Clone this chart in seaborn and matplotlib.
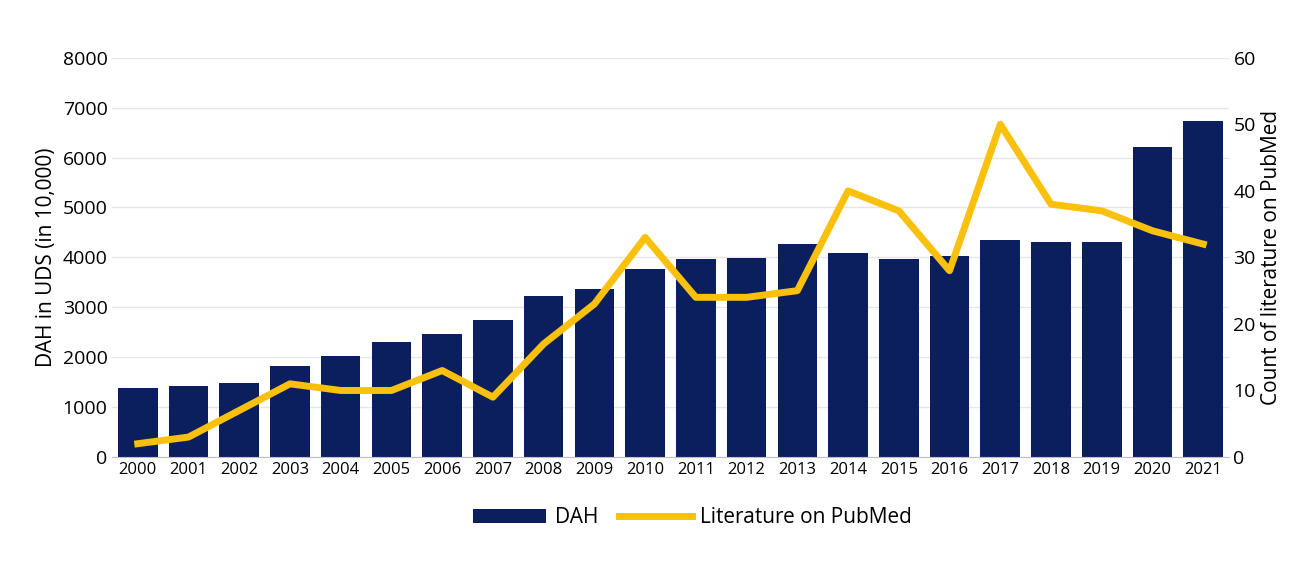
import matplotlib
matplotlib.use("Agg")
import matplotlib.pyplot as plt
import pandas as pd
import seaborn as sns

years = [str(y) for y in range(2000, 2022)]
dah = [1390, 1420, 1480, 1820, 2020, 2300, 2460, 2740, 3230, 3370, 3770,
       3970, 3990, 4270, 4090, 3970, 4030, 4350, 4310, 4310, 6210, 6730]
literature = [2, 3, 7, 11, 10, 10, 13, 9, 17, 23, 33,
              24, 24, 25, 40, 37, 28, 50, 38, 37, 34, 32]

df = pd.DataFrame({"year": years, "dah": dah, "lit": literature})

plt.rcParams["font.family"] = "Open Sans"
fig = plt.figure(figsize=(13.07, 5.72), dpi=100)
ax = fig.add_axes([0.086, 0.201, 0.854, 0.698])

sns.barplot(data=df, x="year", y="dah", color="#0b1f5e", saturation=1,
            width=0.78, ax=ax, label="DAH", zorder=2)
ax.set_ylim(0, 8000)
ax.set_yticks(range(0, 8001, 1000))
ax.grid(axis="y", color="#e6e6e6", linewidth=1, zorder=0)
ax.set_axisbelow(True)
ax.set_xlabel("")
ax.set_ylabel("DAH in UDS (in 10,000)", fontsize=15)
ax.tick_params(axis="x", labelsize=12, length=0)
ax.tick_params(axis="y", labelsize=14, length=0)
for s in ["top", "right", "left"]:
    ax.spines[s].set_visible(False)
ax.spines["bottom"].set_color("#bfbfbf")
ax.set_xlim(-0.5, len(years) - 0.5)

ax2 = ax.twinx()
sns.lineplot(x=range(len(years)), y=df["lit"], color="#f9c00c", linewidth=5,
             ax=ax2, label="Literature on PubMed")
ax2.set_ylim(0, 60)
ax2.set_yticks(range(0, 61, 10))
ax2.set_ylabel("Count of literature on PubMed", fontsize=15)
ax2.tick_params(axis="y", labelsize=14, length=0)
for s in ["top", "right", "left", "bottom"]:
    ax2.spines[s].set_visible(False)

h1, l1 = ax.get_legend_handles_labels()
h2, l2 = ax2.get_legend_handles_labels()
if ax.get_legend() is not None:
    ax.get_legend().remove()
if ax2.get_legend() is not None:
    ax2.get_legend().remove()
fig.legend(h1 + h2, l1 + l2, loc="center", bbox_to_anchor=(0.53, 0.095),
           ncol=2, frameon=False, fontsize=15, handlelength=3.5,
           columnspacing=1.0, handletextpad=0.4)

fig.savefig("out.png", dpi=100)
